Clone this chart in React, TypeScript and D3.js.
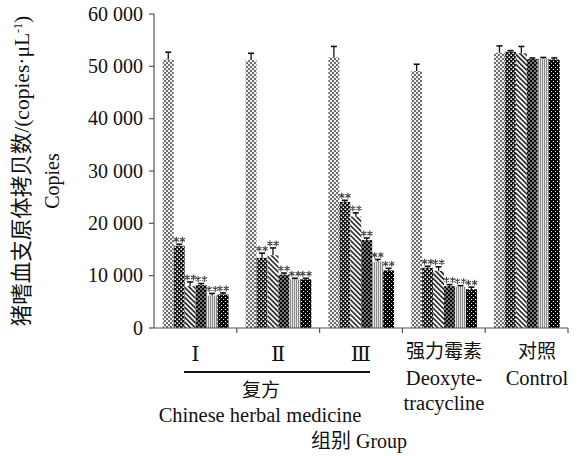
import React from "react";
import * as d3 from "d3";

const categories = ["I", "II", "III", "DOX", "CTRL"];
const catLabelsTop = ["Ⅰ", "Ⅱ", "Ⅲ", "强力霉素", "对照"];
const seriesNames = ["s1", "s2", "s3", "s4", "s5", "s6"];
const s1 = [51300, 51200, 51700, 49100, 52600];
const s2 = [15700, 13400, 24100, 11500, 52800];
const s3 = [8000, 13900, 21300, 10900, 52500];
const s4 = [8200, 10200, 16800, 8000, 51400];
const s5 = [6200, 9300, 12700, 7900, 51500];
const s6 = [6400, 9300, 11000, 7400, 51300];
const e1 = [1400, 1300, 2100, 1300, 1300];
const e2 = [300, 900, 300, 300, 200];
const e3 = [800, 1400, 700, 800, 1300];
const e4 = [300, 300, 400, 300, 200];
const e5 = [400, 200, 400, 200, 200];
const e6 = [300, 200, 400, 400, 300];
const yTicks = [0, 10000, 20000, 30000, 40000, 50000, 60000];
const starredGroups = [true, true, true, true, false];

const values = [s1, s2, s3, s4, s5, s6];
const errors = [e1, e2, e3, e4, e5, e6];

const W = 577;
const H = 456;
const X0 = 154;
const X1 = 568;
const Y0 = 328;
const Y1 = 14;

const serif = "'Liberation Serif', 'Times New Roman', 'Noto Sans CJK SC', serif";

export default function App() {
  const x = d3.scaleBand<string>().domain(categories).range([X0, X1]).paddingInner(0).paddingOuter(0);
  const bw = x.bandwidth();
  const xs = d3.scaleBand<string>().domain(seriesNames).range([8.8, bw - 8.3]).padding(0);
  const y = d3.scaleLinear().domain([0, 60000]).range([Y0, Y1]);
  const fmt = (v: number) => d3.format(",")(v).replace(/,/g, " ");
  const star = d3.symbol().type(d3.symbolAsterisk).size(24)() as string;

  const bars: any[] = [];
  values.forEach((arr, si) => {
    arr.forEach((v, ci) => {
      const bx = (x(categories[ci]) as number) + (xs(seriesNames[si]) as number);
      const w = xs.bandwidth();
      const top = y(v);
      const et = y(v + errors[si][ci]);
      const cx = bx + w / 2;
      bars.push(
        <g key={`b${si}-${ci}`}>
          <rect x={bx} y={top} width={w} height={Y0 - top} fill={`url(#p${si + 1})`} />
          <line x1={cx} x2={cx} y1={top} y2={et} stroke="#111" strokeWidth={1.3} />
          <line x1={cx - 3} x2={cx + 3} y1={et} y2={et} stroke="#111" strokeWidth={1.6} />
          {starredGroups[ci] && si > 0 ? (
            <g>
              <path d={star} transform={`translate(${cx - 3},${et - 4.5})`} fill="none" stroke="#444" strokeWidth={1.1} />
              <path d={star} transform={`translate(${cx + 3.2},${et - 4.5})`} fill="none" stroke="#444" strokeWidth={1.1} />
            </g>
          ) : null}
        </g>
      );
    });
  });

  const cc = (i: number) => (x(categories[i]) as number) + bw / 2;

  return (
    <svg width={W} height={H} style={{ position: "absolute", left: 0, top: 0, background: "#fff" }}>
      <defs>
        <pattern id="p1" width={4} height={4} patternUnits="userSpaceOnUse">
          <rect width={4} height={4} fill="#f0f0f0" />
          <rect x={0} y={0} width={2} height={2} fill="#6e6e6e" />
          <rect x={2} y={2} width={2} height={2} fill="#6e6e6e" />
        </pattern>
        <pattern id="p2" width={4} height={4} patternUnits="userSpaceOnUse">
          <rect width={4} height={4} fill="#111" />
          <rect x={0.5} y={0.5} width={1.5} height={1.5} fill="#fff" />
          <rect x={2.5} y={2.5} width={1.5} height={1.5} fill="#fff" />
        </pattern>
        <pattern id="p3" width={3.5} height={3.5} patternUnits="userSpaceOnUse" patternTransform="rotate(-45)">
          <rect width={3.5} height={3.5} fill="#fff" />
          <rect x={0} y={0} width={1.6} height={3.5} fill="#222" />
        </pattern>
        <pattern id="p4" width={4} height={4} patternUnits="userSpaceOnUse">
          <rect width={4} height={4} fill="#0a0a0a" />
          <circle cx={1} cy={1} r={0.8} fill="#fff" />
          <circle cx={3} cy={3} r={0.8} fill="#fff" />
        </pattern>
        <pattern id="p5" width={2} height={3} patternUnits="userSpaceOnUse">
          <rect width={2} height={3} fill="#e4e4e4" />
          <rect x={0} y={0} width={1} height={3} fill="#8a8a8a" />
        </pattern>
        <pattern id="p6" width={4} height={4} patternUnits="userSpaceOnUse">
          <rect width={4} height={4} fill="#050505" />
          <rect x={1} y={1} width={1} height={1} fill="#fff" />
          <rect x={3} y={3} width={1} height={1} fill="#ddd" />
        </pattern>
      </defs>

      {bars}

      {/* y axis */}
      <line x1={X0} x2={X0} y1={Y1} y2={Y0} stroke="#555" strokeWidth={1.2} />
      {yTicks.map((t) => (
        <g key={`yt${t}`}>
          <line x1={X0 - 5} x2={X0} y1={y(t)} y2={y(t)} stroke="#555" strokeWidth={1.2} />
          <text x={X0 - 11} y={y(t) + 6.5} textAnchor="end" fontSize={20} fontFamily={serif} fill="#111">
            {fmt(t)}
          </text>
        </g>
      ))}

      {/* x axis */}
      <line x1={X0} x2={X1} y1={Y0} y2={Y0} stroke="#555" strokeWidth={1.2} />
      {categories.map((c) => (
        <line key={`xt${c}`} x1={(x(c) as number) + bw} x2={(x(c) as number) + bw} y1={Y0} y2={Y0 + 5} stroke="#555" strokeWidth={1.2} />
      ))}

      {/* x labels */}
      {[0, 1, 2].map((i) => (
        <text key={`r${i}`} x={cc(i)} y={361} textAnchor="middle" fontSize={21} fontFamily="'DejaVu Serif', 'Liberation Serif', serif" fill="#111">
          {catLabelsTop[i]}
        </text>
      ))}
      <text x={444} y={358} textAnchor="middle" fontSize={19} fontFamily={serif} fill="#111">{catLabelsTop[3]}</text>
      <text x={537} y={358} textAnchor="middle" fontSize={19} fontFamily={serif} fill="#111">{catLabelsTop[4]}</text>
      <line x1={184} x2={370} y1={372} y2={372} stroke="#111" strokeWidth={1.8} />
      <text x={261} y={397} textAnchor="middle" fontSize={19} fontFamily={serif} fill="#111">复方</text>
      <text x={260} y={422} textAnchor="middle" fontSize={20.5} fontFamily={serif} fill="#111">Chinese herbal medicine</text>
      <text x={444} y={385} textAnchor="middle" fontSize={20.5} fontFamily={serif} fill="#111">Deoxyte-</text>
      <text x={444} y={410} textAnchor="middle" fontSize={20.5} fontFamily={serif} fill="#111">tracycline</text>
      <text x={537} y={385} textAnchor="middle" fontSize={20.5} fontFamily={serif} fill="#111">Control</text>
      <text x={359} y={448} textAnchor="middle" fontSize={20} fontFamily={serif} fill="#111">组别 Group</text>

      {/* y title */}
      <text transform="translate(29,171) rotate(-90)" textAnchor="middle" fontSize={21.5} fontFamily={serif} fill="#111">
        猪嗜血支原体拷贝数/(copies·μL<tspan dy={-7} fontSize={12}>-1</tspan><tspan dy={7}>)</tspan>
      </text>
      <text transform="translate(59,181) rotate(-90)" textAnchor="middle" fontSize={20} fontFamily={serif} fill="#111">
        Copies
      </text>
    </svg>
  );
}
